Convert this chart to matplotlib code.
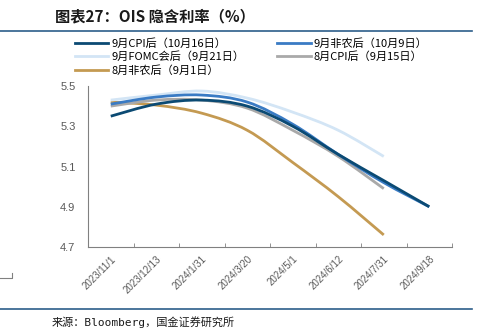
import numpy as np
import matplotlib.pyplot as plt
from matplotlib.path import Path
from matplotlib.patches import PathPatch
from matplotlib.lines import Line2D

plt.rcParams['font.family'] = ['Noto Sans CJK SC', 'DejaVu Sans']

dates = ['2023/11/1', '2023/12/13', '2024/1/31', '2024/3/20',
         '2024/5/1', '2024/6/12', '2024/7/31', '2024/9/18']

cpi_sep = [5.35, 5.41, 5.43, 5.40, 5.30, 5.16, 5.03, 4.90]
nfp_sep = [5.41, 5.445, 5.455, 5.42, 5.31, 5.16, 5.02, 4.90]
fomc_sep = [5.43, 5.455, 5.475, 5.44, 5.37, 5.28, 5.15]
cpi_aug = [5.40, 5.43, 5.43, 5.39, 5.28, 5.15, 4.99]
nfp_aug = [5.42, 5.405, 5.365, 5.28, 5.12, 4.95, 4.76]

series = [
    ('9月CPI后（10月16日）', cpi_sep, '#0b4a73'),
    ('9月非农后（10月9日）', nfp_sep, '#3a7bc4'),
    ('9月FOMC会后（9月21日）', fomc_sep, '#d3e5f5'),
    ('8月CPI后（9月15日）', cpi_aug, '#a9a9a9'),
    ('8月非农后（9月1日）', nfp_aug, '#c49a52'),
]


def smooth_path(xs, ys):
    # Catmull-Rom style bezier through the points (spreadsheet "smoothed line")
    pts = np.column_stack([xs, ys]).astype(float)
    n = len(pts)
    verts = [pts[0]]
    codes = [Path.MOVETO]
    for i in range(n - 1):
        p0 = pts[i - 1] if i > 0 else pts[i]
        p1 = pts[i]
        p2 = pts[i + 1]
        p3 = pts[i + 2] if i + 2 < n else pts[i + 1]
        c1 = p1 + (p2 - p0) / 6.0
        c2 = p2 - (p3 - p1) / 6.0
        verts += [c1, c2, p2]
        codes += [Path.CURVE4] * 3
    return Path(verts, codes)


fig = plt.figure(figsize=(4.96, 3.32), dpi=100)
ax = fig.add_axes([88 / 496, 1 - 247 / 332, (452 - 88) / 496, (247 - 86) / 332])

handles = {}
# draw back to front so the newest curves sit on top
for label, vals, color in series[::-1]:
    xs = np.arange(len(vals))
    ax.add_patch(PathPatch(smooth_path(xs, vals), fill=False, edgecolor=color,
                           lw=2.0, capstyle='butt', zorder=3))
    handles[label] = Line2D([], [], color=color, lw=2.0, label=label)

ax.set_xlim(-0.5, len(dates) - 0.5)
ax.set_ylim(4.7, 5.5)
ax.set_yticks([4.7, 4.9, 5.1, 5.3, 5.5])
ax.set_yticklabels(['4.7', '4.9', '5.1', '5.3', '5.5'], family='Liberation Sans')
ax.set_xticks(np.arange(len(dates)))
ax.set_xticklabels(dates, rotation=45, ha='right', va='top', rotation_mode='anchor',
                   family='Liberation Sans')
ax.set_xticks(np.arange(len(dates) + 1) - 0.5, minor=True)
ax.tick_params(axis='x', which='major', length=0, pad=5, labelsize=7, labelcolor='#595959')
ax.tick_params(axis='x', which='minor', direction='in', length=3, color='#808080')
ax.tick_params(axis='y', length=0, pad=9, labelsize=8, labelcolor='#595959')

for s in ['top', 'right']:
    ax.spines[s].set_visible(False)
for s in ['left', 'bottom']:
    ax.spines[s].set_color('#808080')
    ax.spines[s].set_linewidth(0.8)

# legend fills column by column: reorder so it reads row by row
order = [0, 2, 4, 1, 3]
fig.legend(handles=[handles[series[i][0]] for i in order], ncol=2, loc='upper left',
           bbox_to_anchor=(75 / 496, 1 - 38 / 332), frameon=False, fontsize=8,
           handlelength=3.0, handletextpad=0.25, columnspacing=3.0, labelspacing=0.25,
           borderaxespad=0, borderpad=0)

fig.text(55 / 496, 1 - 16 / 332, '图表27：OIS 隐含利率（%）', fontsize=11, fontweight='bold',
         color='#1a1a1a', va='center', ha='left')
fig.add_artist(Line2D([0, 472 / 496], [1 - 31 / 332] * 2, color='#2c5d8a', lw=1.2))
fig.add_artist(Line2D([0, 472 / 496], [1 - 309 / 332] * 2, color='#2c5d8a', lw=1.2))
fig.add_artist(Line2D([0, 12 / 496, 12 / 496], [1 - 278 / 332, 1 - 278 / 332, 1 - 273 / 332],
                      color='#808080', lw=0.8))
fig.text(52 / 496, 1 - 322 / 332, '来源：Bloomberg，国金证券研究所', fontsize=8,
         family=['DejaVu Sans Mono', 'Noto Sans CJK SC'], color='#1a1a1a',
         va='center', ha='left')

fig.savefig('out.png', dpi=100)
